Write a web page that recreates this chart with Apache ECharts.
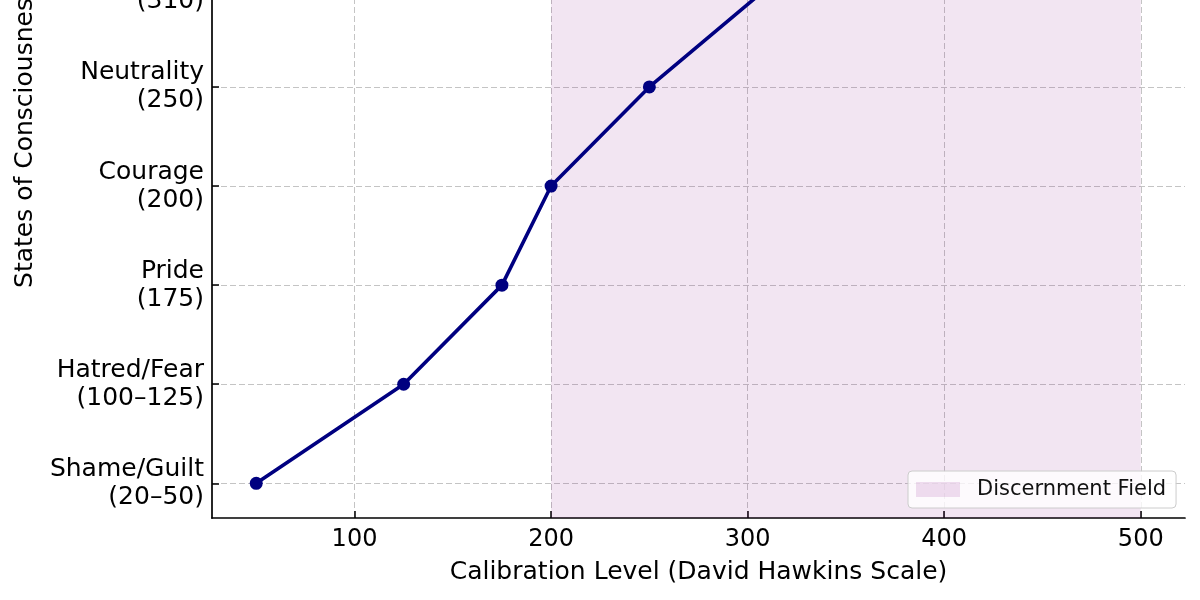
<!DOCTYPE html>
<html>
<head>
<meta charset="utf-8">
<title>States of Consciousness</title>
<script src="https://cdn.jsdelivr.net/npm/echarts@6/dist/echarts.min.js"></script>
<style>
  html, body { margin: 0; padding: 0; background: #fff; }
  #chart { width: 1200px; height: 600px; }
</style>
</head>
<body>
<div id="chart"></div>
<script>
// states on the y axis (bottom to top), their calibration ranges and the plotted level
var states = ['Shame/Guilt', 'Hatred/Fear', 'Pride', 'Courage', 'Neutrality', 'Willingness', 'Acceptance', 'Reason'];
var ranges = ['20–50', '100–125', '175', '200', '250', '310', '350', '400'];
var levels = [50, 125, 175, 200, 250, 310, 350, 400];
var xTicks = [100, 200, 300, 400, 500];
var field = [200, 500]; // Discernment Field span

var font = 'DejaVu Sans';
var yIdx = states.map(function (s, i) { return i; });
var points = levels.map(function (v, i) { return [v, i]; });

var chart = echarts.init(document.getElementById('chart'), null, { renderer: 'canvas' });

var gridLine = { show: true, lineStyle: { color: '#c4c4c4', width: 1, type: [6, 3] } };

chart.setOption({
  animation: false,
  backgroundColor: '#ffffff',
  grid: { left: 212, right: 15, top: -245, bottom: 82, outerBoundsMode: 'none' },
  legend: {
    data: ['Discernment Field'],
    left: 908, top: 471,
    backgroundColor: 'rgba(255,255,255,0.8)',
    borderColor: '#cccccc', borderWidth: 1, borderRadius: 4,
    padding: [8, 10, 8, 8],
    itemWidth: 44, itemHeight: 15, itemGap: 10,
    icon: 'rect',
    textStyle: { fontFamily: font, fontSize: 21, color: '#111', padding: [0, 0, 0, 12] }
  },
  xAxis: {
    type: 'value',
    min: 27.5, max: 522.5,
    name: 'Calibration Level (David Hawkins Scale)',
    nameLocation: 'middle', nameGap: 42,
    nameTextStyle: { fontFamily: font, fontSize: 25, color: '#000' },
    axisLine: { show: true, onZero: false, lineStyle: { color: '#000', width: 1.7 } },
    axisTick: { show: true, inside: true, length: 7, customValues: xTicks, lineStyle: { color: '#000', width: 1.5 } },
    axisLabel: { customValues: xTicks, fontFamily: font, fontSize: 24, color: '#000', margin: 10 },
    splitLine: gridLine
  },
  yAxis: {
    type: 'value',
    min: -0.35, max: yIdx.length - 1 + 0.35,
    name: 'States of Consciousness',
    nameLocation: 'middle', nameGap: 174,
    nameTextStyle: { fontFamily: font, fontSize: 25, color: '#000' },
    axisLine: { show: true, onZero: false, lineStyle: { color: '#000', width: 1.7 } },
    axisTick: { show: true, inside: true, length: 7, customValues: yIdx, lineStyle: { color: '#000', width: 1.5 } },
    axisLabel: {
      customValues: yIdx,
      fontFamily: font, fontSize: 25, lineHeight: 28, color: '#000', margin: 8, align: 'right',
      padding: [24, 0, 0, 0],
      formatter: function (v) {
        var i = Math.round(v);
        return states[i] + '\n(' + ranges[i] + ')';
      }
    },
    splitLine: gridLine
  },
  series: [
    {
      name: 'Discernment Field',
      type: 'line',
      data: [],
      itemStyle: { color: 'rgba(128,0,128,0.12)' },
      markArea: {
        silent: true,
        itemStyle: { color: 'rgba(128,0,128,0.1)' },
        data: [[{ xAxis: field[0] }, { xAxis: field[1] }]]
      }
    },
    {
      name: 'Levels',
      type: 'line',
      data: points,
      symbol: 'circle',
      symbolSize: 13,
      lineStyle: { color: '#000080', width: 3.6 },
      itemStyle: { color: '#000080' },
      z: 5
    }
  ]
});
</script>
</body>
</html>
